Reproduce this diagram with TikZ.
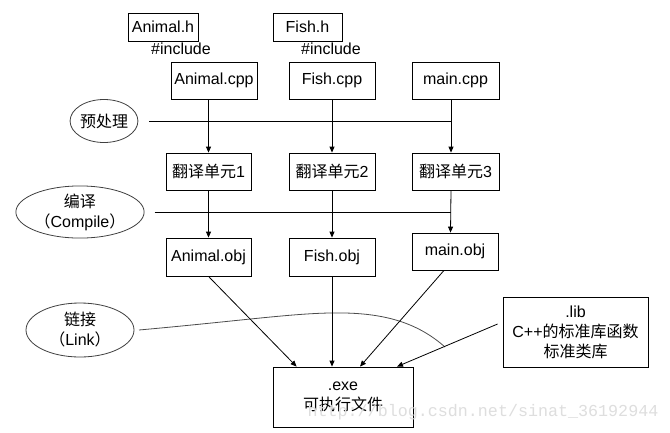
\documentclass[tikz,border=0pt]{standalone}
\usepackage{fontspec}
\setmainfont{Liberation Sans}
\newfontfamily\cjk{Noto Sans CJK SC}
\newfontfamily\wmfont{Liberation Mono}
\usetikzlibrary{arrows.meta,shapes.geometric}
\begin{document}
\begin{tikzpicture}[x=1pt,y=-1pt,
  box/.style={draw,line width=0.8pt,inner sep=0pt,align=center,
    font=\fontsize{16}{20}\selectfont},
  oval/.style={draw=black!75,line width=0.8pt,ellipse,inner sep=0pt,align=center,
    font=\fontsize{16}{20}\selectfont},
  lbl/.style={inner sep=0pt,font=\fontsize{16}{20}\selectfont},
  arr/.style={line width=0.8pt,-{Triangle[length=6pt,width=5pt]}},
  bar/.style={line width=0.8pt},
  linkcurve/.style={line width=0.8pt,draw=black!70}]
\useasboundingbox[fill=white] (0,0) rectangle (670,432);
% headers
\node[box,minimum width=70,minimum height=28] (ah) at (163,27) {Animal.h};
\node[box,minimum width=69,minimum height=28] (fh) at (307.5,27) {Fish.h};
\node[lbl] (inc1) at (181,49) {\#include};
\node[lbl] (inc2) at (331,49) {\#include};
% sources
\node[box,minimum width=86,minimum height=37] (acpp) at (214,80.5) {Animal.cpp};
\node[box,minimum width=86,minimum height=37] (fcpp) at (332,80.5) {Fish.cpp};
\node[box,minimum width=87,minimum height=37] (mcpp) at (455.5,80.5) {main.cpp};
% translation units
\node[box,minimum width=85,minimum height=37] (tu1) at (208.5,171.5) {{\cjk 翻译单元}1};
\node[box,minimum width=86,minimum height=37] (tu2) at (332,171.5) {{\cjk 翻译单元}2};
\node[box,minimum width=87,minimum height=37] (tu3) at (455.5,171.5) {{\cjk 翻译单元}3};
% objects
\node[box,minimum width=85,minimum height=38] (aobj) at (208.5,257) {Animal.obj};
\node[box,minimum width=86,minimum height=38] (fobj) at (332,257) {Fish.obj};
\node[box,minimum width=86,minimum height=37] (mobj) at (455,251.5) {main.obj};
% lib and exe
\node[box,minimum width=145,minimum height=70] (lib) at (575.5,332) {.lib\\C++{\cjk 的标准库函数}\\{\cjk 标准类库}};
\node[box,minimum width=140,minimum height=60] (exe) at (343,397) {.exe\\{\cjk 可执行文件}};
% ellipses
\node[oval,minimum width=58,minimum height=43] (pre) at (104,121) {\cjk 预处理};
\node[oval,minimum width=108,minimum height=52] (comp) at (80,212) {{\cjk 编译}\\{\cjk （}Compile{\cjk ）}};
\node[oval,minimum width=108,minimum height=54] (link) at (80,330) {{\cjk 链接}\\{\cjk （}Link{\cjk ）}};
% watermark
\node[inner sep=0pt,text=black!13,font=\wmfont\fontsize{16.7}{20}\selectfont] (wm) at (483,412) {http://blog.csdn.net/sinat\_36192944};
% vertical arrows
\draw[arr] ([xshift=-5.5]acpp.south) -- (tu1.north);
\draw[arr] (fcpp.south) -- (tu2.north);
\draw[arr] ([xshift=-4.5]mcpp.south) -- ([xshift=-4.5]tu3.north);
\draw[arr] (tu1.south) -- (aobj.north);
\draw[arr] (tu2.south) -- (fobj.north);
\draw[arr] ([xshift=-4.5]tu3.south) -- ([xshift=-4.5]mobj.north);
% stage bars
\coordinate (preEnd) at ([xshift=-4.5]mcpp.south |- pre.east);
\draw[bar] ([xshift=11]pre.east) -- (preEnd);
\coordinate (compEnd) at ([xshift=-4.5]mcpp.south |- comp.east);
\draw[bar] ([xshift=10]comp.east) -- (compEnd);
% link curve
\coordinate (linkA) at (139,330);
\coordinate (linkB) at (445,347);
\draw[linkcurve] (linkA) .. controls (250,320) and (300,312) .. (345,313)
  .. controls (390,314) and (420,325) .. (linkB);
% arrows into exe
\draw[arr] (aobj.south) -- ([xshift=24]exe.north west);
\draw[arr] (fobj.south) -- (exe.north -| fobj.south);
\draw[arr] ([xshift=-11]mobj.south) -- ([xshift=17]exe.north);
\draw[arr] ([xshift=-5,yshift=8]lib.west) -- ([xshift=54]exe.north);
\end{tikzpicture}
\end{document}
